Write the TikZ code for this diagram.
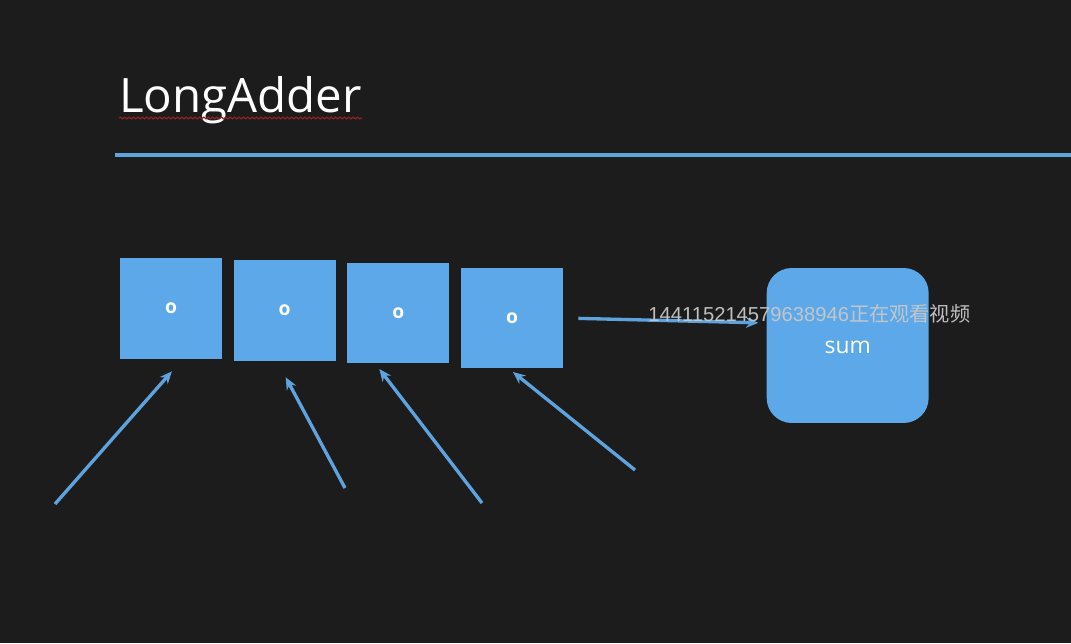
\documentclass[tikz,border=0pt]{standalone}
\usepackage{fontspec}
\setmainfont{Open Sans}
\newfontfamily\markfont{Liberation Sans}
\newfontfamily\cjk{Noto Sans CJK SC}
\usepackage{tikz}
\usetikzlibrary{positioning, arrows.meta, decorations.pathmorphing}

\definecolor{board}{RGB}{28,28,28}
\definecolor{cellblue}{RGB}{92,168,232}
\definecolor{lineblue}{RGB}{95,163,222}
\definecolor{squiggle}{RGB}{140,35,35}
\definecolor{markgray}{RGB}{200,200,200}

\begin{document}
\begin{tikzpicture}[
      x=0.02cm, y=-0.02cm,
      >={Stealth[length=7pt, width=6pt]},
      node distance = 0.22cm,
      cell/.style = {
        fill=cellblue,
        minimum width=2.04cm,
        minimum height=2.02cm,
        inner sep=0pt,
        text=white,
        font=\bfseries\fontsize{11}{13}\selectfont
      },
      sumbox/.style = {
        fill=cellblue,
        rounded corners=0.5cm,
        minimum width=3.24cm,
        minimum height=3.1cm,
        text=white,
        font=\fontsize{13}{15}\selectfont
      },
      feed/.style = {->, draw=lineblue, line width=1.9pt}
    ]

    \useasboundingbox (0,0) rectangle (1071,643);
    \fill[board] (0,0) rectangle (1071,643);

    % title and rule
    \node[anchor=base west, inner sep=0pt, text=white,
          font=\fontsize{27}{30}\selectfont] (title) at (119,112) {LongAdder};
    \draw[squiggle, line width=0.7pt,
          decorate, decoration={snake, amplitude=0.5pt, segment length=2.5pt}]
          (title.base west) ++(0,6) -- ++(243,0);
    \draw[lineblue, line width=2.3pt] (115,155) -- (1071,155);

    % cells
    \node[cell] (cell1) at (171,308.5) {o};
    \node[cell, right=of cell1, yshift=-0.04cm] (cell2) {o};
    \node[cell, right=of cell2, yshift=-0.05cm] (cell3) {o};
    \node[cell, right=of cell3, yshift=-0.1cm]  (cell4) {o};
    \node[sumbox, right=4.06cm of cell4, yshift=-0.55cm,
          text depth=0pt, text height=9pt] (sum) {sum};

    \draw[feed, shorten <=0.3cm, shorten >=0.16cm] (cell4.east) -- ([yshift=0.45cm]sum.west);

    % incoming threads
    \coordinate (in1) at (55,504);
    \coordinate (in2) at (345,488);
    \coordinate (in3) at (482,503);
    \coordinate (in4) at (635,470);

    \draw[feed, shorten >=0.32cm] (in1) -- ([xshift=0.23cm]cell1.south);
    \draw[feed, shorten >=0.36cm] (in2) -- ([xshift=-0.15cm]cell2.south);
    \draw[feed, shorten >=0.13cm] (in3) -- ([xshift=-0.46cm]cell3.south);
    \draw[feed, shorten >=0.1cm]  (in4) -- ([xshift=-0.06cm]cell4.south);

    \node[anchor=west, inner sep=0pt, text=markgray, opacity=0.95,
          font=\fontsize{11.5}{14}\selectfont] (mark) at (648,314)
          {{\markfont 144115214579638946}\cjk 正在观看视频};

  \end{tikzpicture}
\end{document}
